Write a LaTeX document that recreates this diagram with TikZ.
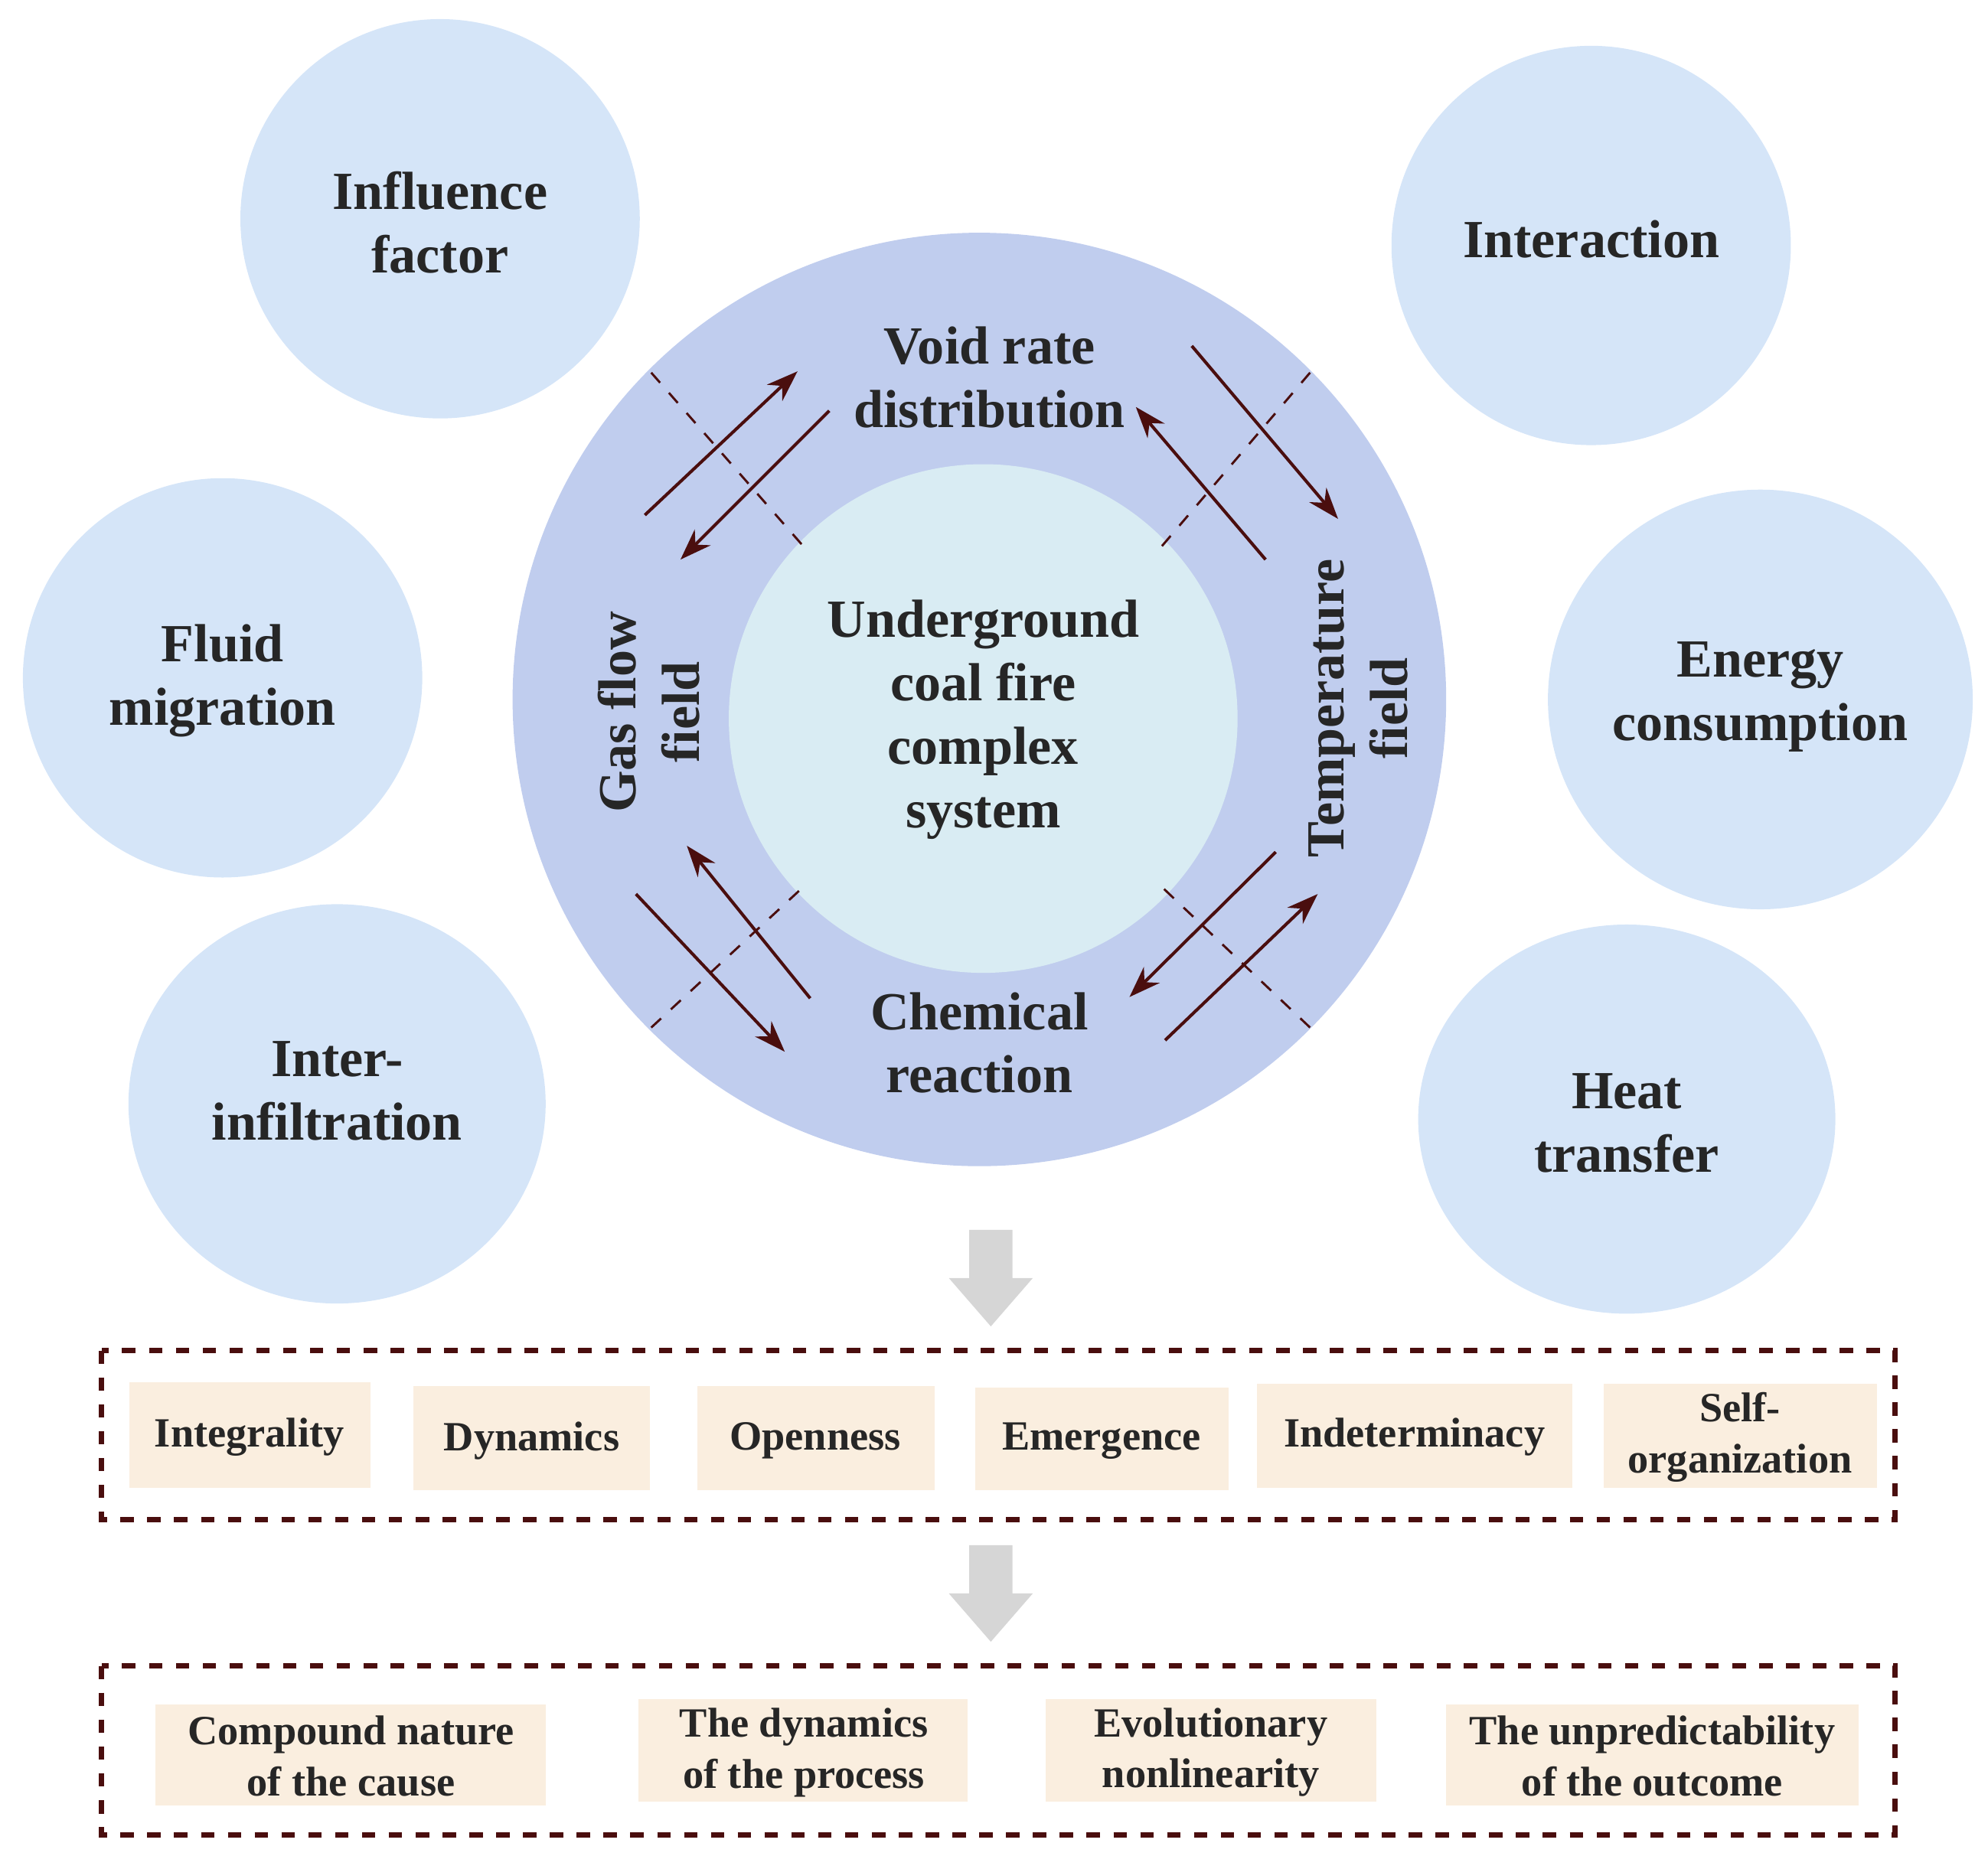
\documentclass[tikz,border=0pt]{standalone}
\usepackage{fontspec}
\setmainfont{Liberation Serif}
\usetikzlibrary{arrows.meta}
\definecolor{bub}{HTML}{D5E5F8}
\definecolor{ring}{HTML}{C0CDEE}
\definecolor{core}{HTML}{D9ECF3}
\definecolor{dred}{HTML}{4A0E0E}
\definecolor{boxf}{HTML}{FAEEDF}
\definecolor{gar}{HTML}{D6D6D6}
\begin{document}
\begin{tikzpicture}[x=0.01cm,y=-0.01cm,
 big/.style={font=\fontsize{12}{14.2}\selectfont\bfseries,text=black!85,align=center},
 small/.style={font=\fontsize{9.3}{11.4}\selectfont\bfseries,text=black!85,align=center},
 dl/.style={draw=dred,dashed,line width=0.5pt},
 ar/.style={draw=dred,line width=0.7pt,-{Stealth[length=7pt,width=5pt]}},
 fbox/.style={draw=dred,dashed,line width=1.2pt}]
\useasboundingbox (0,0) rectangle (1563,1459);
% outer bubbles
\fill[bub] (346,172) circle (157); \node[big] (b1) at (346,175) {Influence\\factor};
\fill[bub] (1251,193) circle (157); \node[big] (b2) at (1251,188) {Interaction};
\fill[bub] (175,533) circle (157); \node[big] (b3) at (175,535) {Fluid\\migration};
\fill[bub] (1384,550) circle[x radius=167,y radius=165]; \node[big] (b4) at (1384,548) {Energy\\consumption};
\fill[bub] (265,868) circle[x radius=164,y radius=157]; \node[big] (b5) at (265,858) {Inter-\\infiltration};
\fill[bub] (1279,880) circle[x radius=164,y radius=153]; \node[big] (b6) at (1279,883) {Heat\\transfer};
% ring
\fill[ring] (770,550) circle (367);
\fill[core] (773,565) circle (200);
\node[big] (core) at (773,566) {Underground\\coal fire\\complex\\system};
\node[big] (vr) at (778,297) {Void rate\\distribution};
\node[big] (cr) at (770,820) {Chemical\\reaction};
\node[big,rotate=90] (gf) at (510,560) {Gas flow\\field};
\node[big,rotate=90] (tf) at (1068,557) {Temperature\\field};
% dashed separators
\coordinate (d1a) at (512,293); \coordinate (d1b) at (632,430);
\coordinate (d2a) at (1030,293); \coordinate (d2b) at (913,430);
\coordinate (d3a) at (512,808); \coordinate (d3b) at (632,697);
\coordinate (d4a) at (1030,808); \coordinate (d4b) at (913,697);
\draw[dl] (d1a)--(d1b); \draw[dl] (d2a)--(d2b); \draw[dl] (d3a)--(d3b); \draw[dl] (d4a)--(d4b);
% arrows
\coordinate (a1) at (507,405); \coordinate (a2) at (627,292);
\coordinate (a3) at (652,323); \coordinate (a4) at (535,440);
\coordinate (a5) at (937,272); \coordinate (a6) at (1052,408);
\coordinate (a7) at (995,440); \coordinate (a8) at (893,320);
\coordinate (a9) at (637,785); \coordinate (a10) at (540,665);
\coordinate (a11) at (500,703); \coordinate (a12) at (617,827);
\coordinate (a13) at (1003,670); \coordinate (a14) at (888,784);
\coordinate (a15) at (916,818); \coordinate (a16) at (1036,703);
\draw[ar] (a1)--(a2); \draw[ar] (a3)--(a4); \draw[ar] (a5)--(a6); \draw[ar] (a7)--(a8);
\draw[ar] (a9)--(a10); \draw[ar] (a11)--(a12); \draw[ar] (a13)--(a14); \draw[ar] (a15)--(a16);
% gray arrows
\fill[gar] (762,967)--(796,967)--(796,1005)--(812,1005)--(779,1043)--(746,1005)--(762,1005)--cycle;
\fill[gar] (762,1215)--(796,1215)--(796,1253)--(812,1253)--(779,1291)--(746,1253)--(762,1253)--cycle;
% frames
\draw[fbox] (80,1062) rectangle (1490,1195);
\draw[fbox] (80,1310) rectangle (1490,1443);
\fill[boxf] (102,1087) rectangle (291,1170); \node[small] (p1) at (196,1130) {Integrality};
\fill[boxf] (325,1090) rectangle (511,1172); \node[small] (p2) at (418,1133) {Dynamics};
\fill[boxf] (548,1090) rectangle (735,1172); \node[small] (p3) at (641,1133) {Openness};
\fill[boxf] (767,1091) rectangle (966,1172); \node[small] (p4) at (866,1133) {Emergence};
\fill[boxf] (988,1088) rectangle (1236,1170); \node[small] (p5) at (1112,1130) {Indeterminacy};
\fill[boxf] (1261,1088) rectangle (1476,1170); \node[small] (p6) at (1368,1130) {Self-\\organization};
\fill[boxf] (122,1340) rectangle (429,1420); \node[small] (q1) at (276,1381) {Compound nature\\of the cause};
\fill[boxf] (502,1336) rectangle (761,1417); \node[small] (q2) at (632,1378) {The dynamics\\of the process};
\fill[boxf] (822,1336) rectangle (1082,1417); \node[small] (q3) at (952,1378) {Evolutionary\\nonlinearity};
\fill[boxf] (1137,1340) rectangle (1461,1420); \node[small] (q4) at (1299,1381) {The unpredictability\\of the outcome};
\end{tikzpicture}
\end{document}
